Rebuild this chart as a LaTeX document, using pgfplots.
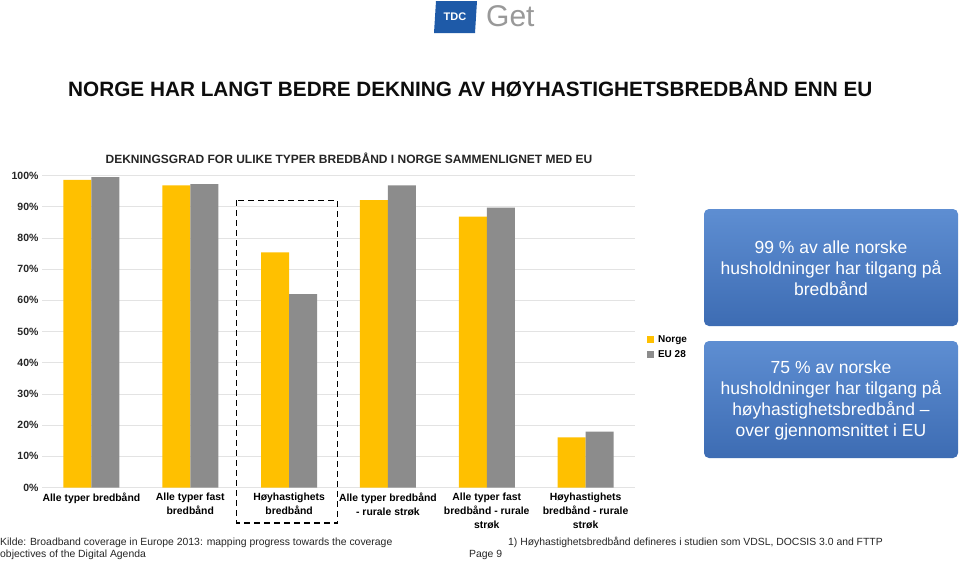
\documentclass[border=0pt]{standalone}
\usepackage{fontspec}
\setmainfont{Liberation Sans}
\usepackage{pgfplots}
\pgfplotsset{compat=1.18}
\definecolor{norge}{HTML}{FFC000}
\definecolor{eu}{HTML}{8C8C8C}
\definecolor{gridc}{HTML}{E3E3E3}
\definecolor{boxtop}{HTML}{5E8ED2}
\definecolor{boxbot}{HTML}{3D6CB3}
\definecolor{tdc}{HTML}{1E5AA8}
\definecolor{txt}{HTML}{262626}
\begin{document}
\begin{tikzpicture}[x=1pt,y=1pt]
\useasboundingbox[fill=white] (0,0) rectangle (960,-560);
% logos
\fill[tdc] (436,-1) -- (477,-1) -- (475,-33) -- (434,-33) -- cycle;
\node[text=white,font=\bfseries\fontsize{11}{12}\selectfont] at (455,-17) {TDC};
\node[text=black!40,font=\fontsize{30}{30}\selectfont,anchor=west,inner sep=0] at (486,-16) {Get};
% titles
\node[font=\bfseries\fontsize{20.75}{24}\selectfont,anchor=west,inner sep=0,text=black!95] at (68,-88) {NORGE HAR LANGT BEDRE DEKNING AV HØYHASTIGHETSBREDBÅND ENN EU};
\node[font=\bfseries\fontsize{12}{14}\selectfont,text=txt,inner sep=0] at (349,-158) {DEKNINGSGRAD FOR ULIKE TYPER BREDBÅND I NORGE SAMMENLIGNET MED EU};
\begin{axis}[
  at={(42pt,-487.5pt)}, anchor=south west,
  scale only axis, width=593pt, height=312pt,
  ybar=0pt, bar width=28pt,
  xmin=-0.5, xmax=5.5, ymin=0, ymax=100,
  axis line style={draw=none},
  major tick length=0pt,
  ymajorgrids, grid style={gridc, line width=0.8pt},
  ytick={0,10,...,100},
  yticklabels={0\%,10\%,20\%,30\%,40\%,50\%,60\%,70\%,80\%,90\%,100\%},
  yticklabel style={font=\bfseries\fontsize{10.5}{12}\selectfont, text=txt},
  xtick={0,1,2,3,4,5},
  xticklabels={Alle typer bredbånd, Alle typer fast\\bredbånd, Høyhastighets\\bredbånd, Alle typer bredbånd\\- rurale strøk, Alle typer fast\\bredbånd - rurale\\strøk, Høyhastighets\\bredbånd - rurale\\strøk},
  xticklabel style={font=\bfseries\fontsize{10.4}{14}\selectfont, align=center, text=black, yshift=-1.5pt},
  clip=false,
  legend style={at={(1.02,0.495)}, anchor=north west, draw=none, fill=none,
    font=\bfseries\fontsize{10}{12}\selectfont, row sep=3pt, inner sep=0pt},
  legend cell align=left,
  legend image code/.code={\fill[#1] (0pt,-3.5pt) rectangle (7pt,3.5pt); \path (9pt,0pt);},
]
\addplot[fill=norge, draw=none] coordinates {(0,98.6) (1,96.8) (2,75.4) (3,92.1) (4,86.8) (5,16.1)};
\addplot[fill=eu, draw=none] coordinates {(0,99.5) (1,97.2) (2,62.0) (3,96.8) (4,89.7) (5,17.9)};
\legend{Norge, EU 28}
\draw[black, line width=1.3pt, dash pattern=on 6pt off 4pt] (axis cs:1.47,92.1) rectangle (axis cs:2.49,-11.4);
\end{axis}
% blue boxes
\shade[top color=boxtop, bottom color=boxbot, rounded corners=5pt] (704,-209) rectangle (958,-326);
\node[text=white, font=\fontsize{17.5}{21}\selectfont, align=center] at (831,-268) {99 \% av alle norske\\husholdninger har tilgang på\\bredbånd};
\shade[top color=boxtop, bottom color=boxbot, rounded corners=5pt] (704,-341) rectangle (958,-458);
\node[text=white, font=\fontsize{17.5}{21}\selectfont, align=center] at (831,-400) {75 \% av norske\\husholdninger har tilgang på\\høyhastighetsbredbånd –\\over gjennomsnittet i EU};
% footer
\begin{scope}[every node/.style={inner sep=0, anchor=base west, text=txt, font=\fontsize{10.4}{12}\selectfont}]
\node at (0,-545) {Kilde: Broadband coverage in Europe 2013: mapping progress towards the coverage};
\node at (0,-557) {objectives of the Digital Agenda};
\node at (508,-545) {1) Høyhastighetsbredbånd defineres i studien som VDSL, DOCSIS 3.0 and FTTP};
\node at (469,-557) {Page 9};
\end{scope}
\end{tikzpicture}
\end{document}
